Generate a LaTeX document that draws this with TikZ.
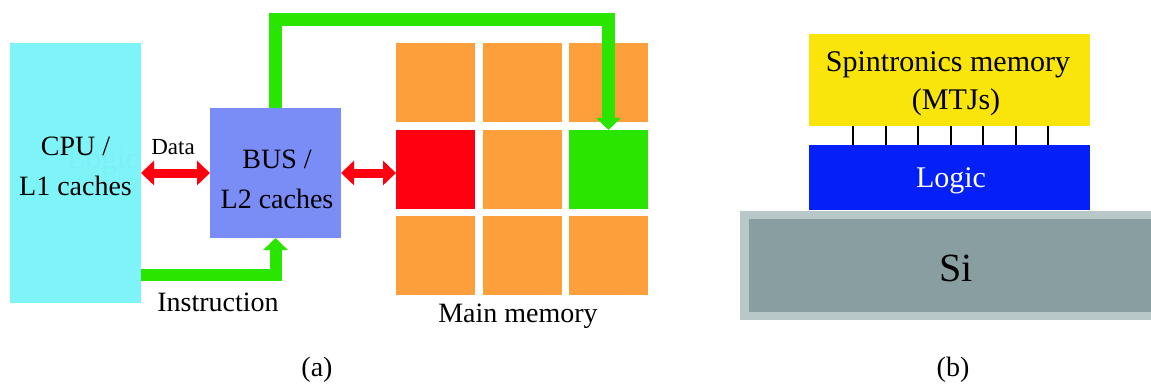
\documentclass[tikz,border=0pt]{standalone}
\usepackage{fontspec}
\setmainfont{Liberation Serif}
\usetikzlibrary{arrows.meta}
\definecolor{cpuc}{HTML}{7FF4F8}
\definecolor{busc}{HTML}{7A8CF5}
\definecolor{orc}{HTML}{FD9F3A}
\definecolor{redc}{HTML}{FF0010}
\definecolor{grc}{HTML}{29E500}
\definecolor{yelc}{HTML}{FAE50A}
\definecolor{bluc}{HTML}{0420F9}
\definecolor{siout}{HTML}{B8C8C8}
\definecolor{siin}{HTML}{889EA0}
\definecolor{ghost}{HTML}{7CEFF4}
\begin{document}
\begin{tikzpicture}[x=1pt,y=-1pt,
  blk/.style={inner sep=0pt,outer sep=0pt,draw=none},
  cell/.style={blk,minimum width=79pt,minimum height=79pt,fill=orc},
  txt/.style={inner sep=0pt,font=\fontsize{28}{40}\selectfont,align=center},
  redarrow/.style={draw=redc,line width=9pt,{Triangle[width=24pt,length=13pt]}-{Triangle[width=24pt,length=13pt]}},
  grarrow/.style={draw=grc,line width=13pt,-{Triangle[width=24pt,length=12pt]}}]
\useasboundingbox (0,0) rectangle (1151,385);
% (a)
\node[blk,fill=cpuc,minimum width=131pt,minimum height=260pt] (cpu) at (75.5,173) {};
\node[txt,text=ghost,font=\fontsize{31}{36}\selectfont] (gh) at (103,162) {Logic};
\node[txt] (cput) at (75.5,166) {CPU /\\L1 caches};
\node[blk,fill=busc,minimum width=131pt,minimum height=130pt] (bus) at (275.5,173) {};
\node[txt] (bust) at (277,179) {BUS /\\L2 caches};
\foreach \c/\cx in {1/435.5,2/522.5,3/608.5}{
  \foreach \r/\ry in {1/82.5,2/169.5,3/255.5}{
    \node[cell] (m\c\r) at (\cx,\ry) {};
  }
}
\node[cell,fill=redc] at (m12) {};
\node[cell,fill=grc] at (m32) {};
\draw[redarrow] (cpu.east) -- (bus.west);
\draw[redarrow] (bus.east) -- (m12.west |- bus.east);
\coordinate (ty) at (0,20);
\coordinate (iy) at (0,275);
\draw[grarrow] (bus.north) -- (bus.north |- ty) -| (m32.north);
\draw[grarrow,line width=12pt] (cpu.east |- iy) -| (bus.south);
\node[txt,font=\fontsize{23}{28}\selectfont] (data) at (173,147) {Data};
\node[txt] (instr) at (218,302) {Instruction};
\node[txt] (mm) at (518,316) {Main memory};
\node[txt] (la) at (317,370) {(a)};
% (b)
\node[blk,fill=siout,minimum width=420pt,minimum height=109pt] (sio) at (950,265.5) {};
\node[blk,fill=siin,minimum width=410pt,minimum height=93pt] (si) at (954,265.5) {};
\node[txt,font=\fontsize{40}{44}\selectfont] (sit) at (956,268) {Si};
\node[blk,fill=yelc,minimum width=281pt,minimum height=92pt] (spin) at (949.5,80) {};
\node[txt,font=\fontsize{30}{38}\selectfont] (spint) at (948,84) {Spintronics memory\\\hspace*{16pt}(MTJs)};
\node[blk,fill=bluc,minimum width=281pt,minimum height=65pt] (logic) at (949.5,177.5) {};
\node[txt,text=white,font=\fontsize{30}{36}\selectfont] (logt) at (951,181) {Logic};
\foreach \px in {853,886,918,951,983,1016,1048}{
  \draw[line width=2pt] (spin.south -| \px,0) -- (logic.north -| \px,0);
}
\node[txt] (lb) at (953,370) {(b)};
\end{tikzpicture}
\end{document}
